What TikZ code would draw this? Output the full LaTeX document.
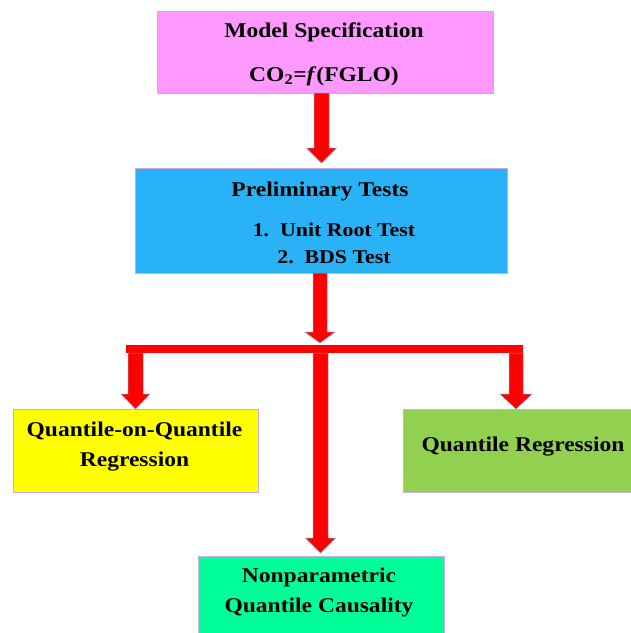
\documentclass[tikz,border=0pt]{standalone}
\usepackage{fontspec}
\setmainfont{Liberation Serif}[FakeStretch=1.12]
\usetikzlibrary{calc}
\definecolor{cpink}{RGB}{255,153,255}
\definecolor{cblue}{RGB}{41,178,245}
\definecolor{cyel}{RGB}{255,255,0}
\definecolor{cgreen}{RGB}{146,208,80}
\definecolor{cteal}{RGB}{0,255,153}
\definecolor{cedge}{RGB}{200,170,230}
\definecolor{cred}{RGB}{255,0,0}
\definecolor{cshade}{RGB}{140,150,185}
\tikzset{
  box/.style={draw=cedge, line width=0.8pt, inner sep=0pt, outer sep=0pt},
  lbl/.style={font=\fontsize{21}{30}\selectfont\bfseries, align=center, inner sep=0pt},
  fat/.style={fill=cred, draw=cshade, line width=0.5pt, line join=miter},
  barstyle/.style={fill=cred, draw=none}
}
% #1 top coord, #2 tip coord, #3 shaft half width, #4 head half width, #5 head length
\newcommand\fatdown[5]{%
  \draw[fat] let \p1=#1, \p2=#2 in
    (\x2-#3pt,\y1) -- (\x2-#3pt,\y2+#5pt) -- (\x2-#4pt,\y2+#5pt) -- (\x2,\y2)
    -- (\x2+#4pt,\y2+#5pt) -- (\x2+#3pt,\y2+#5pt) -- (\x2+#3pt,\y1) -- cycle;}
\begin{document}
\begin{tikzpicture}[x=1pt,y=-1pt]
\useasboundingbox (0,0) rectangle (631,633);
% boxes
\node[box, fill=cpink, minimum width=336pt, minimum height=82pt] (spec) at (325,52) {};
\node[box, fill=cblue, minimum width=372pt, minimum height=105pt] (prelim) at (321,220.5) {};
\node[box, fill=cyel, minimum width=245pt, minimum height=83pt] (qq) at (135.5,450.5) {};
\node[box, fill=cgreen, minimum width=228pt, minimum height=83pt] (qr) at (517.5,450.5) {};
\node[box, fill=cteal, minimum width=246pt, minimum height=78pt] (npq) at (321,595) {};
% texts
\node[lbl] (t1) at (324,32) {Model Specification};
\node[lbl] (t2) at (324,76) {CO\textsubscript{2}=\textit{f}(FGLO)};
\node[lbl] (t3) at (320,191) {Preliminary Tests};
\node[lbl, font=\fontsize{19.5}{27}\selectfont\bfseries] (t4) at (334,243.5) {1.\ \ Unit Root Test\\2.\ \ BDS Test};
\node[lbl] (t5) at (134.5,447) {Quantile-on-Quantile\\Regression};
\node[lbl] (t6) at (523,447) {Quantile Regression};
\node[lbl] (t7) at (319,592.5) {Nonparametric\\Quantile Causality};
% junction coordinates
\coordinate (j1) at (320,343);
\coordinate (barL) at (126,345);
\coordinate (barR) at (523,353);
\coordinate (lt) at (135.5,353);
\coordinate (mt) at (320.5,353);
\coordinate (rt) at (516,353);
% arrows
\fatdown{(spec.south)}{($(prelim.north)+(0.5,-5)$)}{7.5}{15}{15}
\fatdown{(prelim.south)}{(j1)}{7}{15}{11}
\fill[barstyle] (barL) rectangle (barR);
\fatdown{(lt)}{(qq.north)}{7.5}{14.5}{15}
\fatdown{(mt)}{($(npq.north)+(-0.5,-3)$)}{7.5}{15}{15}
\fatdown{(rt)}{($(qr.north)+(-1.5,0)$)}{7}{16}{15}
\end{tikzpicture}
\end{document}
